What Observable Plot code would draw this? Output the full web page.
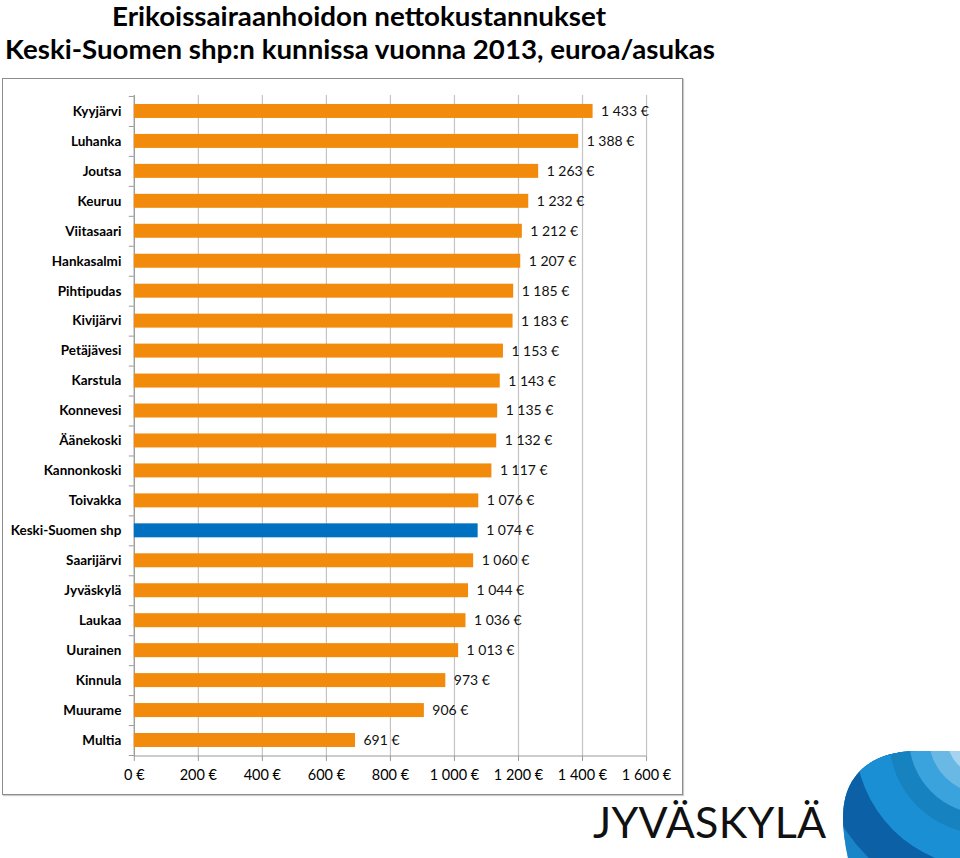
<!DOCTYPE html>
<html>
<head>
<meta charset="utf-8">
<script src="https://cdn.jsdelivr.net/npm/d3@7"></script>
<script src="https://cdn.jsdelivr.net/npm/@observablehq/plot@0.6"></script>
<style>
  html, body { margin: 0; padding: 0; background: #fff; }
  body { width: 960px; height: 858px; position: relative; overflow: hidden; }
  #title { position: absolute; left: 0; top: 0; }
  #box { position: absolute; left: 2px; top: 78px; width: 679px; height: 715px;
    border: 1.5px solid #8c8c8c; box-shadow: 1px 1px 1px #ccc; }
  #chart { position: absolute; left: 0; top: 0; }
  #chart svg { overflow: visible; }
  #logo { position: absolute; left: 0; top: 0; }
</style>
</head>
<body>
<svg id="title" width="960" height="72">
  <text x="359" y="25.5" text-anchor="middle" textLength="494" lengthAdjust="spacingAndGlyphs"
    font-family="Lato, sans-serif" font-weight="bold" font-size="26" fill="#000">Erikoissairaanhoidon nettokustannukset</text>
  <text x="360" y="59" text-anchor="middle" textLength="710" lengthAdjust="spacingAndGlyphs"
    font-family="Lato, sans-serif" font-weight="bold" font-size="27" fill="#000">Keski-Suomen shp:n kunnissa vuonna 2013, euroa/asukas</text>
</svg>
<div id="box"><div id="chart"></div></div>
<svg id="logo" width="960" height="858"></svg>
<script>
const municipalities = ["Kyyjärvi","Luhanka","Joutsa","Keuruu","Viitasaari","Hankasalmi","Pihtipudas","Kivijärvi","Petäjävesi","Karstula","Konnevesi","Äänekoski","Kannonkoski","Toivakka","Keski-Suomen shp","Saarijärvi","Jyväskylä","Laukaa","Uurainen","Kinnula","Muurame","Multia"];
const costs = [1433,1388,1263,1232,1212,1207,1185,1183,1153,1143,1135,1132,1117,1076,1074,1060,1044,1036,1013,973,906,691];
const xTicks = [0,200,400,600,800,1000,1200,1400,1600];
const highlight = "Keski-Suomen shp";

const data = municipalities.map((name, i) => ({name, value: costs[i]}));
const euro = v => d3.format(",")(v).replace(/,/g, "\u00a0") + "\u00a0€";
const labelFont = "Lato, sans-serif";

const chart = Plot.plot({
  width: 680,
  height: 715,
  marginLeft: 131,
  marginRight: 36,
  marginTop: 16,
  marginBottom: 37,
  style: { fontFamily: labelFont, fontSize: "14px", color: "#000", background: "transparent" },
  x: { domain: [0, 1600] },
  y: { domain: municipalities, paddingInner: 0.53, paddingOuter: 0.265 },
  marks: [
    Plot.ruleX(xTicks, { stroke: "#c4c4c4", strokeWidth: 1.2 }),
    Plot.ruleY([municipalities[municipalities.length - 1]], { stroke: "#9a9a9a", strokeWidth: 1.2, dy: 15.5, x1: 0, x2: 1600 }),
    Plot.ruleX([0], { stroke: "#9a9a9a", strokeWidth: 1.2 }),
    Plot.barX(data, { y: "name", x: "value", fill: d => d.name === highlight ? "#0070C0" : "#F28A0C" }),
    Plot.text(data, { y: "name", x: "value", text: d => euro(d.value), textAnchor: "start", dx: 8, fill: "#111", fontSize: 14 }),
    Plot.axisY({ tickSize: 0, tickPadding: 13, fontWeight: "bold", fontSize: 13.5, label: null }),
    Plot.axisY({ tickSize: 5, text: null, dy: 15.02, stroke: "#9a9a9a", label: null }),
    Plot.axisY({ ticks: [municipalities[0]], tickSize: 5, text: null, dy: -15.02, stroke: "#9a9a9a", label: null }),
    Plot.axisX({ ticks: xTicks, tickFormat: euro, tickSize: 5, tickPadding: 8, stroke: "#9a9a9a", fontSize: 14.5, label: null })
  ]
});
document.getElementById("chart").appendChild(chart);

// decorative logo (not data)
const logo = d3.select("#logo");
const defs = logo.append("defs");
defs.append("clipPath").attr("id", "blob").append("path")
  .attr("d", "M848,858 C842,830 840,805 850,785 C862,762 885,752 915,751 L960,751 L960,858 Z");
const g = logo.append("g").attr("clip-path", "url(#blob)");
const cx = 985, cy = 738;
const rings = [
  [215, "#5aaee0"], [185, "#1a84c8"], [167, "#0b60a6"], [130, "#1b8fd4"],
  [96, "#1682c0"], [76, "#3aa2dc"], [56, "#6ab8e4"], [38, "#a6d3ef"]
];
rings.forEach(([r, c]) => g.append("circle").attr("cx", cx).attr("cy", cy).attr("r", r).attr("fill", c));
logo.append("text").attr("x", 593).attr("y", 838).attr("font-family", "Lato, Open Sans, sans-serif")
  .attr("font-weight", 400).attr("font-size", 43).attr("letter-spacing", 0.3).attr("fill", "#111")
  .text("JYVÄSKYLÄ");
</script>
</body>
</html>
